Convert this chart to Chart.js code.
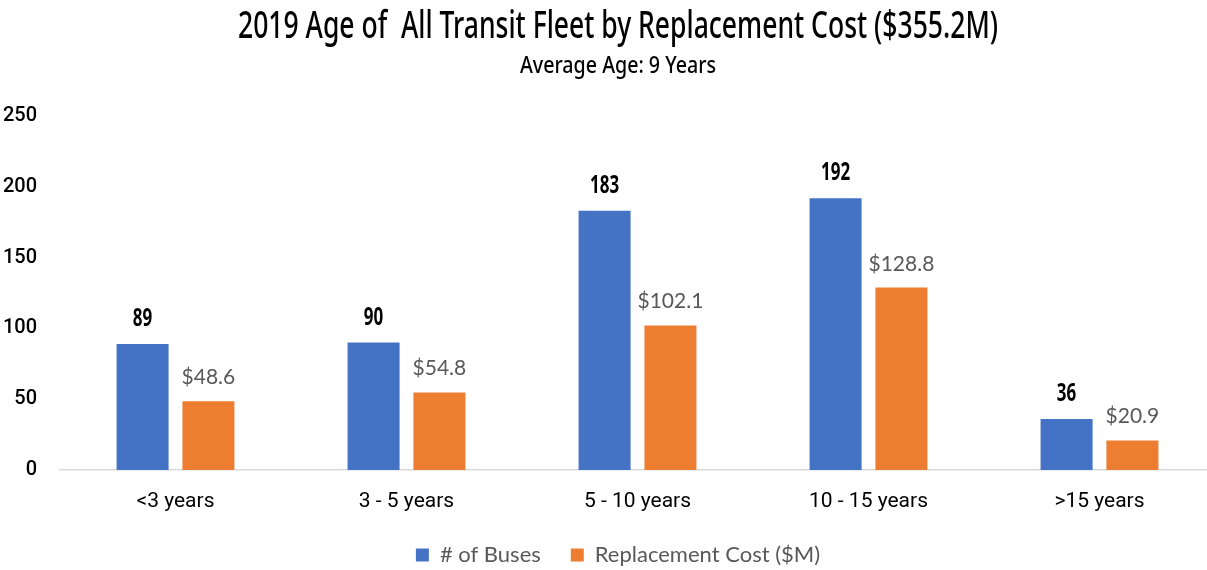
<!DOCTYPE html>
<html>
<head>
<meta charset="utf-8">
<script src="https://cdn.jsdelivr.net/npm/chart.js@4.4.0/dist/chart.umd.min.js"></script>
<style>
  html, body { margin: 0; padding: 0; background: #fff; overflow: hidden; }
  #wrap { width: 1236px; height: 570px; position: relative; }
</style>
</head>
<body>
<div id="wrap"><canvas id="c"></canvas></div>
<script>
const categories = ['<3 years', '3 - 5 years', '5 - 10 years', '10 - 15 years', '>15 years'];
const busCounts = [89, 90, 183, 192, 36];
const replacementCost = [48.6, 54.8, 102.1, 128.8, 20.9];
const costLabels = ['$48.6', '$54.8', '$102.1', '$128.8', '$20.9'];
const yTicks = [0, 50, 100, 150, 200, 250];
const titleText = '2019 Age of  All Transit Fleet by Replacement Cost ($355.2M)';
const subtitleText = 'Average Age: 9 Years';

const BODY = "Lato, 'Noto Sans', sans-serif";
const NARROW = "'Noto Sans', sans-serif";

// draw text squeezed horizontally (condensed look)
function drawCondensed(ctx, text, cx, baseline, font, sx, color) {
  ctx.save();
  ctx.font = font;
  ctx.fillStyle = color;
  ctx.textAlign = 'center';
  ctx.textBaseline = 'alphabetic';
  ctx.translate(cx, baseline);
  ctx.scale(sx, 1);
  ctx.fillText(text, 0, 0);
  ctx.restore();
}

const titlePlugin = {
  id: 'condensedTitle',
  afterDraw(chart) {
    const ctx = chart.ctx;
    const cx = 618;
    ctx.save();
    ctx.font = "500 38px " + NARROW;
    const w1 = ctx.measureText(titleText).width;
    ctx.font = "500 23px " + NARROW;
    const w2 = ctx.measureText(subtitleText).width;
    ctx.restore();
    drawCondensed(ctx, titleText, cx, 38, "500 38px " + NARROW, 760 / w1, '#000000');
    drawCondensed(ctx, subtitleText, cx, 73, "500 23px " + NARROW, 196 / w2, '#000000');
  }
};

const labelPlugin = {
  id: 'barLabels',
  afterDatasetsDraw(chart) {
    const ctx = chart.ctx;
    chart.data.datasets.forEach((ds, i) => {
      const meta = chart.getDatasetMeta(i);
      meta.data.forEach((el, j) => {
        if (i === 0) {
          drawCondensed(ctx, String(busCounts[j]), el.x, el.y - 18, "bold 25px " + NARROW, 0.68, '#000000');
        } else {
          ctx.save();
          ctx.textAlign = 'center';
          ctx.textBaseline = 'alphabetic';
          ctx.font = "21px " + BODY;
          ctx.fillStyle = '#595959';
          ctx.fillText(costLabels[j], el.x, el.y - 17);
          ctx.restore();
        }
      });
    });
  }
};

new Chart(document.getElementById('c'), {
  type: 'bar',
  data: {
    labels: categories,
    datasets: [
      { label: '# of Buses', data: busCounts, backgroundColor: '#4472C4', borderWidth: 0 },
      { label: 'Replacement Cost ($M)', data: replacementCost, backgroundColor: '#ED7D31', borderWidth: 0 }
    ]
  },
  options: {
    responsive: true,
    maintainAspectRatio: false,
    animation: false,
    devicePixelRatio: 1,
    categoryPercentage: 0.57,
    barPercentage: 0.79,
    layout: { padding: { left: 0, right: 0, top: 116, bottom: -6 } },
    plugins: {
      title: { display: false },
      subtitle: { display: false },
      legend: {
        position: 'bottom',
        labels: {
          color: '#595959',
          font: { family: BODY, size: 22, lineHeight: 1.0 },
          boxWidth: 13,
          boxHeight: 13,
          padding: 30
        }
      },
      tooltip: { enabled: false }
    },
    scales: {
      x: {
        afterFit(scale) { scale.height = 44; },
        grid: { display: false, drawTicks: false },
        border: { display: true, color: '#D9D9D9', width: 1.5 },
        ticks: { color: '#000000', font: { family: "Roboto, sans-serif", size: 21, lineHeight: 1.0 }, padding: 21, maxRotation: 0 }
      },
      y: {
        min: 0, max: 250,
        afterBuildTicks(scale) { scale.ticks = yTicks.map(v => ({ value: v })); },
        afterFit(scale) { scale.width = 60; },
        grid: { display: false, drawTicks: false },
        border: { display: false },
        ticks: { color: '#000000', font: { family: "Roboto, sans-serif", size: 20, weight: 500 }, padding: 23 }
      },
      yRight: {
        position: 'right',
        min: 0, max: 250,
        afterFit(scale) { scale.width = 21; },
        grid: { display: false, drawTicks: false },
        border: { display: false },
        ticks: { display: false }
      }
    }
  },
  plugins: [labelPlugin, titlePlugin]
});
</script>
</body>
</html>
